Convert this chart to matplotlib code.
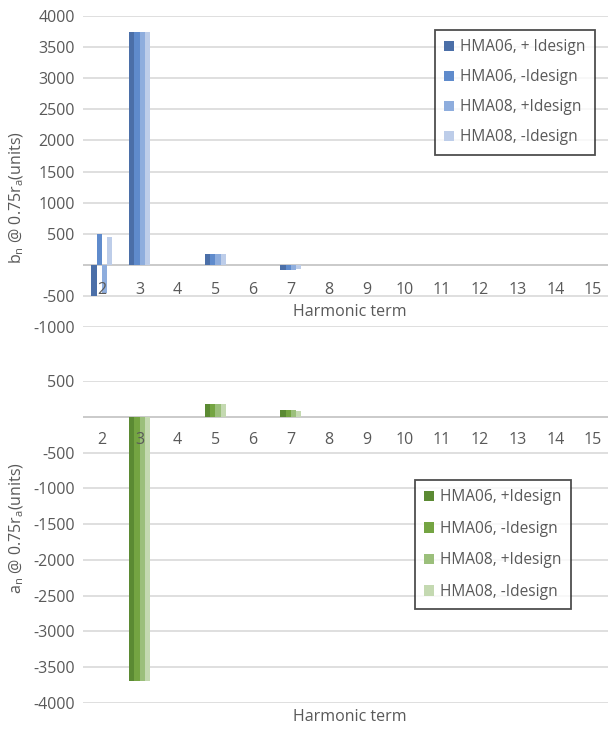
import numpy as np
import matplotlib.pyplot as plt

plt.rcParams['font.family'] = ['Open Sans', 'DejaVu Sans']

harmonics = list(range(2, 16))

# normal multipoles b_n at 0.75 r_a
b_hma06_plus = [-500, 3740, 0, 180, 0, -80, 0, 0, 0, 0, 0, 0, 0, 0]
b_hma06_minus = [500, 3740, 0, 180, 0, -80, 0, 0, 0, 0, 0, 0, 0, 0]
b_hma08_plus = [-450, 3740, 0, 180, 0, -80, 0, 0, 0, 0, 0, 0, 0, 0]
b_hma08_minus = [440, 3750, 0, 175, 0, -70, 0, 0, 0, 0, 0, 0, 0, 0]

# skew multipoles a_n at 0.75 r_a
a_hma06_plus = [0, -3690, 0, 185, 0, 90, 0, 0, 0, 0, 0, 0, 0, 0]
a_hma06_minus = [0, -3690, 0, 185, 0, 90, 0, 0, 0, 0, 0, 0, 0, 0]
a_hma08_plus = [0, -3690, 0, 185, 0, 90, 0, 0, 0, 0, 0, 0, 0, 0]
a_hma08_minus = [0, -3690, 0, 180, 0, 85, 0, 0, 0, 0, 0, 0, 0, 0]

b_labels = ['HMA06, + Idesign', 'HMA06, -Idesign', 'HMA08, +Idesign', 'HMA08, -Idesign']
a_labels = ['HMA06, +Idesign', 'HMA06, -Idesign', 'HMA08, +Idesign', 'HMA08, -Idesign']
blues = ['#4b6fa8', '#5f8bcc', '#8eaddd', '#bdcde9']
greens = ['#5b8a33', '#74a442', '#9bbf7b', '#c4d9b1']

text_col = '#595959'
grid_col = '#d9d9d9'
fs = 11.5

fig = plt.figure(figsize=(6.08, 7.29), dpi=100)
W, H = 608, 729


def axes_px(left, top, right, bottom):
    return fig.add_axes([left / W, 1 - bottom / H, (right - left) / W, (bottom - top) / H])


def draw_panel(ax, series, labels, colors, ylim, step, label_offset):
    x = np.array(harmonics)
    bw = 0.139
    for i, (vals, lab, col) in enumerate(zip(series, labels, colors)):
        ax.bar(x + (i - 1.5) * bw, vals, width=bw, color=col, label=lab, zorder=3)
    ax.set_xlim(1.5, 15.5)
    ax.set_ylim(*ylim)
    ticks = np.arange(ylim[0], ylim[1] + 1, step)
    ax.set_yticks(ticks)
    ax.set_yticklabels([str(v) if v != 0 else '' for v in ticks])
    ax.yaxis.grid(True, color=grid_col, linewidth=1.2, zorder=0)
    ax.axhline(0, color='#c8c8c8', linewidth=1.2, zorder=2)
    ax.set_xticks([])
    for s in ax.spines.values():
        s.set_visible(False)
    ax.tick_params(axis='y', length=0, labelsize=fs, labelcolor=text_col, pad=6)
    for h in harmonics:
        ax.annotate(str(h), (h, 0), xytext=(0, label_offset), textcoords='offset points',
                    ha='center', va='center', fontsize=fs, color=text_col)


def style_legend(leg):
    leg.get_frame().set_edgecolor('#222222')
    leg.get_frame().set_linewidth(1.3)
    for t in leg.get_texts():
        t.set_color(text_col)


# top panel: b_n
ax1 = axes_px(83, 16, 612, 327)
draw_panel(ax1, [b_hma06_plus, b_hma06_minus, b_hma08_plus, b_hma08_minus],
           b_labels, blues, (-1000, 4000), 500, -18)
ax1.set_ylabel(r'b$_\mathregular{n}$ @ 0.75r$_\mathregular{a}$(units)', fontsize=fs, color=text_col)
ax1.yaxis.set_label_coords(-0.108, 0.415)
leg1 = ax1.legend(loc='upper right', bbox_to_anchor=(595 / W, 1 - 30 / H),
                  bbox_transform=fig.transFigure, fontsize=11.2, labelspacing=0.9,
                  handlelength=0.65, handleheight=0.65, handletextpad=0.4,
                  fancybox=False, borderpad=0.6, borderaxespad=0)
style_legend(leg1)
fig.text(350 / W, 1 - 312 / H, 'Harmonic term', ha='center', va='center', fontsize=fs, color=text_col)

# bottom panel: a_n
ax2 = axes_px(83, 381, 612, 703)
draw_panel(ax2, [a_hma06_plus, a_hma06_minus, a_hma08_plus, a_hma08_minus],
           a_labels, greens, (-4000, 500), 500, -17)
ax2.set_ylabel(r'a$_\mathregular{n}$ @ 0.75r$_\mathregular{a}$(units)', fontsize=fs, color=text_col)
ax2.yaxis.set_label_coords(-0.108, 0.543)
leg2 = ax2.legend(loc='upper right', bbox_to_anchor=(571 / W, 1 - 480 / H),
                  bbox_transform=fig.transFigure, fontsize=11.2, labelspacing=1.0,
                  handlelength=0.65, handleheight=0.65, handletextpad=0.4,
                  fancybox=False, borderpad=0.6, borderaxespad=0)
style_legend(leg2)
fig.text(350 / W, 1 - 717 / H, 'Harmonic term', ha='center', va='center', fontsize=fs, color=text_col)

fig.savefig('out.png', dpi=100)
